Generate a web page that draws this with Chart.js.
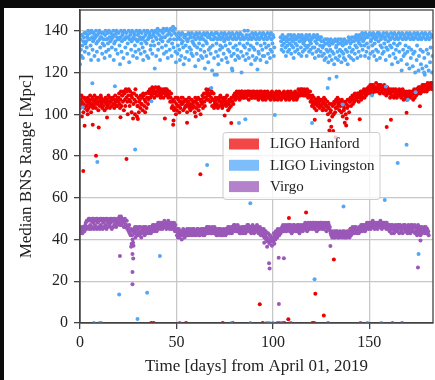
<!DOCTYPE html>
<html>
<head>
<meta charset="utf-8">
<script src="https://cdn.jsdelivr.net/npm/chart.js@4.4.1/dist/chart.umd.min.js"></script>
<style>
  html, body { margin: 0; padding: 0; background: #0b0b0b; }
  #wrap { position: absolute; left: 4px; top: 8px; width: 431px; height: 372px; background: #fff; }
</style>
</head>
<body>
<div id="wrap"><canvas id="rangeChart"></canvas></div>
<script>
// 4 readings per day, each segment starts at the given day
var perDay = 4;

var hanfordFrom0 = [
  103,107,105,109, 106,104,108,101, 105,108,103,107, 107,104,106,102, 108,105,103,107,
  106,109,104,101, 105,107,108,103, 104,106,109,105, 107,103,106,108, 105,108,102,106,
  106,104,107,109, 108,105,103,106, 104,107,106,102, 106,108,105,103, 107,104,106,109,
  105,108,103,106, 106,107,104,108, 108,105,107,103, 105,109,106,104, 107,104,108,106,
  108,110,105,103, 107,111,104,109, 109,106,111,102, 110,107,104,112, 108,111,106,100,
  109,112,107,104, 111,106,109,101, 108,110,98,105, 110,107,100,112, 106,109,99,104,
  104,108,101,106, 107,103,109,105, 105,108,102,110, 109,104,107,101, 106,110,103,108,
  108,105,111,107, 110,112,108,111, 111,109,113,110, 112,110,108,111, 110,113,111,109,
  111,109,112,113, 112,110,111,108, 109,112,110,111, 111,108,112,110, 110,112,109,111,
  112,110,111,108, 109,111,110,106, 108,110,103,106, 104,107,97,102, 106,103,108,100
];
var hanfordFrom50 = [
  105,102,108,104, 107,104,101,106, 103,106,108,105, 105,108,102,106, 106,103,107,104,
  104,107,101,105, 106,104,108,103, 105,102,107,104, 107,105,103,106, 104,106,101,108,
  106,103,107,105, 105,108,102,104, 104,107,100,106, 107,105,109,103, 108,110,106,104,
  110,108,112,107, 111,109,107,110, 109,112,106,110, 108,111,104,107, 107,110,103,105,
  106,108,104,107, 105,107,103,108, 107,104,106,109, 106,108,105,103, 104,107,106,108,
  107,105,108,104, 106,109,105,102, 105,107,103,106, 107,104,108,106, 106,108,105,109,
  108,110,107,109, 109,111,108,110, 110,108,111,107, 109,110,108,111, 111,109,110,108,
  108,110,111,109, 110,108,109,111, 109,111,107,110, 111,109,110,108, 110,108,111,109,
  109,111,108,110, 108,110,109,111, 110,108,107,109, 109,111,108,110, 111,109,110,107,
  108,110,109,111, 110,107,108,109, 109,111,110,108, 108,110,109,107, 110,108,111,109
];
var hanfordFrom100 = [
  109,110,108,107, 108,110,109,111, 110,109,107,108, 109,111,108,110, 108,107,110,109,
  110,108,109,111, 109,110,108,107, 108,110,109,111, 110,108,107,109, 109,111,110,108,
  108,110,109,107, 110,109,111,108, 109,107,110,108, 110,112,109,111, 111,109,112,110,
  112,110,111,109, 110,112,109,111, 111,109,110,112, 110,108,111,109, 109,111,106,108,
  107,104,109,105, 106,108,103,105, 105,107,102,106, 107,104,108,105, 106,103,107,104,
  104,107,105,102, 106,103,108,105, 105,107,102,104, 104,106,100,103, 103,97,105,101,
  102,94,105,99, 104,92,100,106, 105,101,103,107, 106,103,108,104, 105,107,102,106,
  104,106,101,107, 106,99,104,102, 103,96,106,100, 105,98,103,107, 104,107,101,106,
  106,108,104,107, 107,109,105,108, 108,106,110,107, 109,107,108,110, 108,110,106,109,
  110,108,111,107, 109,111,108,110, 110,112,108,111, 111,109,112,110, 112,110,113,111
];
var hanfordFrom150 = [
  113,111,114,110, 112,114,110,113, 114,112,111,113, 111,113,115,112, 113,111,112,114,
  112,114,110,113, 114,111,113,112, 112,113,110,114, 113,111,112,109, 111,113,110,112,
  112,110,111,108, 110,112,109,111, 111,109,112,108, 109,111,110,112, 110,108,111,109,
  111,109,112,110, 109,111,108,110, 110,112,109,107, 111,109,110,108, 109,111,107,110,
  110,108,111,109, 111,109,108,110, 109,111,110,107, 110,112,108,111, 111,109,112,110,
  112,110,113,111, 111,113,110,112, 113,111,114,112, 112,114,111,113, 114,112,113,111,
  113,115,112,114, 112,114,113,115, 114,113,115,112
];
var hanfordStray = [
  [1.7,72.9],[8.3,80.2],[24.1,78.6],[62.4,71.3],[108.3,50.3],[117.2,53],[140.2,45],
  [131.6,30.4],[122,14],[126.4,3.6],[108,1.8],[93.2,9],[2.4,94.5],[6.6,95],[9.7,93.7],
  [48.3,95],[55.5,96],[78.4,95.8],[121.7,97.4],[159,93.9],[161.2,97.4],[169.3,100.7],
  [176.2,103.9],[145,97.7],[129.3,92.3],[138,94.7],[1,99],[4,100],[14,98.5],[21,98.6],
  [30,97.8],[44,98],[60,99],[75,99.5],[132.5,89],
  [36.9,0],[38.2,0],[55,0],[74,0],[79.2,0],[94.7,0],[105.9,0],[120.5,0],[121.4,0]
];

var livingstonFrom0 = [
  124,136,131,128, 138,133,127,135, 137,139,130,134, 139,135,132,137, 138,140,129,136,
  136,139,133,126, 140,137,131,135, 139,136,128,138, 137,140,134,130, 138,135,126,139,
  140,136,132,137, 137,139,129,134, 139,136,133,127, 138,140,130,136, 136,139,134,131,
  140,137,128,135, 139,136,132,138, 137,140,126,134, 138,135,131,139, 140,137,129,136,
  139,136,133,124, 137,140,130,135, 138,139,127,136, 140,136,132,137, 139,137,129,134,
  137,140,125,136, 138,139,131,135, 140,136,128,137, 139,138,133,130, 136,140,127,135,
  138,139,131,136, 140,137,129,134, 139,136,132,126, 137,140,130,135, 138,139,134,128,
  140,136,127,137, 139,138,131,133, 137,140,129,135, 138,139,133,122, 140,137,128,136,
  139,141,131,134, 138,140,126,136, 140,137,132,135, 139,141,129,137, 137,140,133,130,
  141,138,127,135, 140,139,131,136, 141,138,128,134, 140,142,132,136, 139,141,130,125
];
var livingstonFrom50 = [
  138,136,129,133, 137,139,131,126, 136,138,128,134, 139,135,132,124, 137,138,127,133,
  138,136,130,135, 136,139,126,132, 138,137,131,129, 139,135,128,134, 137,138,133,123,
  136,139,129,132, 138,137,126,134, 139,136,131,128, 137,138,127,133, 136,139,130,122,
  138,135,128,134, 139,137,125,131, 137,138,132,129, 136,139,121,133, 138,136,127,119,
  137,139,130,134, 139,136,128,124, 138,137,131,133, 136,139,126,132, 137,138,129,135,
  139,136,133,127, 138,137,125,131, 136,139,130,134, 137,138,128,122, 139,136,132,129,
  138,137,126,133, 136,139,131,128, 137,138,127,134, 139,136,130,120, 138,137,128,133,
  136,140,132,126, 137,138,129,134, 140,136,127,131, 138,137,133,124, 136,139,128,132,
  137,138,131,126, 139,136,127,134, 138,137,130,129, 136,139,126,133, 137,138,131,128,
  139,136,128,134, 138,137,132,125, 136,139,129,133, 137,138,127,131, 139,136,130,134,
  138,137,128,132
];
// no Livingston data from day 101 to 103
var livingstonFrom104 = [
  137,135,131,133, 138,136,130,134, 136,137,132,128, 137,135,133,130, 138,136,131,134,
  136,138,129,133, 137,135,132,127, 138,136,130,134, 136,137,133,131, 137,138,129,135,
  135,137,132,128, 138,136,130,134, 137,135,131,133, 136,138,128,132, 137,136,133,130,
  138,135,131,134, 136,137,129,132, 137,138,132,127, 135,137,130,134, 138,136,131,128,
  136,137,133,130, 137,135,128,132,
  135,133,129,126, 136,134,127,131, 134,136,130,125, 135,133,128,131, 136,134,126,130,
  134,135,129,124, 135,136,127,132, 133,135,130,126, 136,134,128,131, 134,136,125,130,
  135,133,129,127, 136,134,126,131, 134,135,130,124, 135,137,128,132, 136,134,127,130,
  137,135,131,126, 135,137,129,133, 136,138,132,127, 137,135,130,134, 138,136,128,133
];
var livingstonFrom146 = [
  137,139,131,135, 138,136,133,128, 139,137,130,134, 137,138,132,127, 138,139,129,135,
  136,138,133,130, 139,137,128,134, 138,136,131,126, 137,139,130,135, 139,138,127,133,
  136,137,132,129, 138,139,130,134, 137,136,126,132, 139,138,131,135, 138,137,128,133,
  136,139,132,124, 137,138,129,134, 139,136,127,131, 138,137,133,125, 136,139,130,134,
  137,138,126,121, 139,136,131,128, 138,137,129,133, 136,139,124,130, 137,138,132,122,
  139,136,127,131, 138,137,123,129, 136,139,130,120, 137,138,126,133, 139,136,121,128,
  138,137,131,124, 136,139,122,130, 137,138,127,119, 139,136,123,131, 138,137,129,121,
  136,139,125,132, 137,138,120,128
];
var livingstonStray = [
  [1.4,103.4],[6.4,114.9],[18.1,113.4],[9,77.2],[28.6,83.2],[20.3,13.7],[29.8,1.9],
  [34.8,14.5],[41.4,32.1],[37,106.3],[65.9,75.7],[68.1,112.6],[82.4,95.8],[85.7,97.7],
  [88.3,57.4],[101,99.7],[120.3,95.9],[121.6,21],[128.4,112.6],[129.3,117],[133,118],
  [136.6,55.8],[136.2,104.7],[151.4,109],[158,58.9],[164.7,76.7],[169.3,85.4],[175.5,33.1],
  [170,107],[158.6,113.3],[174,110.6],[178.4,120],[71,119],[79,121],[92,121.5],
  [7.2,0],[10.2,0],[11,0],[78.6,0],[88.3,0],[96.7,0],[98,0],[100,0],[149,0],[156.2,0]
];

var virgoFrom0 = [
  44,46,43,45, 45,43,46,44, 46,44,45,47, 48,45,49,46, 49,46,50,45, 50,47,49,45, 49,46,50,48, 50,45,49,47, 49,46,50,45, 50,48,49,46,
  49,45,50,47, 50,46,49,45, 48,50,46,49, 49,47,50,45, 50,46,48,49, 49,47,50,46, 48,50,45,49, 49,46,50,47, 50,48,49,46, 49,47,50,48,
  50,48,51,47, 49,51,47,50, 50,48,49,46, 48,50,46,47, 47,49,45,46, 46,44,47,43, 44,42,45,38, 42,40,44,37, 45,43,46,41, 44,46,42,45,
  45,43,46,42, 44,46,43,41, 43,45,44,46, 45,44,42,46, 46,43,45,44, 44,45,43,46, 45,46,44,43, 46,44,45,47, 45,47,44,46, 46,45,47,44,
  47,45,48,46, 46,48,45,47, 48,46,47,45, 47,48,46,49, 46,47,48,45, 48,46,47,49, 47,48,45,46, 46,47,48,45, 47,45,46,48, 46,44,47,45
];
var virgoFrom50 = [
  44,42,45,41, 43,45,41,44, 42,44,43,40, 44,42,45,43, 43,41,44,42, 44,43,45,42, 43,45,42,44, 44,43,45,42, 43,44,42,45, 45,43,44,42,
  44,42,43,45, 43,45,44,42, 42,44,43,45, 44,43,45,42, 43,45,42,44, 45,44,43,46, 44,46,43,45, 46,44,45,43, 45,43,46,44, 44,45,43,46,
  43,44,45,42, 44,42,43,45, 43,45,44,42, 45,43,42,44, 44,42,45,43, 43,44,42,45, 45,43,44,46, 44,46,43,45, 45,44,46,43, 46,45,44,47,
  45,47,46,44, 46,44,45,47, 44,46,45,43, 45,43,44,46, 44,45,43,46, 45,46,44,43, 46,44,45,47, 45,47,44,46, 44,46,45,43, 46,45,47,44,
  45,43,46,44, 44,46,45,47, 46,44,43,45, 45,46,44,42, 44,42,45,43, 43,45,41,44, 42,44,40,43, 41,39,43,40, 40,38,42,39, 39,41,37,40,
  41,39,43,38, 42,40,44,41, 43,41,45,42, 44,42,43,45, 43,45,44,46
];
var virgoFrom105 = [
  45,47,44,46, 46,44,47,45, 44,46,45,47, 46,45,47,44, 45,47,46,43, 46,44,45,47, 47,45,46,44, 45,46,44,47, 46,47,45,43, 44,46,47,45,
  46,45,44,47, 47,46,45,48, 45,47,46,44, 46,48,45,47, 47,45,48,46, 46,47,45,48, 48,46,47,45, 47,48,46,44, 46,47,48,45, 47,45,46,48,
  48,46,47,45, 46,48,45,47, 47,46,48,44, 46,47,45,48, 47,45,46,44,
  43,42,44,41, 42,43,41,44, 43,41,42,44, 42,44,43,41, 41,43,42,44, 43,42,41,43, 42,44,43,41, 44,42,41,43, 43,41,44,42, 42,43,44,41,
  43,45,42,44, 44,46,43,45, 45,43,46,44, 46,44,45,43, 44,45,43,46, 45,46,44,47, 46,44,47,45, 45,47,46,44, 47,45,46,48, 46,48,45,47
];
var virgoFrom150 = [
  47,48,46,45, 48,46,47,49, 46,48,47,45, 48,47,46,48, 47,45,48,46, 46,48,47,49, 48,47,45,46, 47,48,46,48, 46,47,48,45, 48,46,47,45,
  46,47,44,45, 45,47,43,46, 47,45,46,43, 44,46,47,45, 46,44,45,47, 45,47,43,46, 47,46,44,45, 45,43,46,47, 46,45,47,44, 44,46,45,43,
  46,47,44,45, 45,43,46,47, 47,45,44,46, 44,46,47,43, 46,44,45,42, 45,47,43,46, 44,46,42,45, 46,43,45,44, 45,44,46,43, 44,46,43,45,
  45,43,44,42
];
var virgoStray = [
  [20.7,32.1],[27.2,33.1],[27.6,30.9],[27.2,24.5],[27.2,18.6],[98,28.6],[98.3,26.1],
  [103,31.3],[105.7,31],[103.1,9.1],[129.8,36.9],[175.2,26.6],[26.5,36.6],[27.5,38.5],
  [176.5,39.5],[12,45.5],[33,43.5],[95.5,38.5],[97,36.5],
  [51.7,0],[102.4,0],[103.5,0],[105,0],[109.3,0],[128.6,0],[145.4,0],[162,0],[167,0]
];

var detectorNames = ['LIGO Hanford', 'LIGO Livingston', 'Virgo'];
var pointColors = ['#ee0000', '#52a8f8', '#9a58b8'];
var swatchColors = ['rgba(238,0,0,0.72)', 'rgba(82,168,248,0.75)', 'rgba(154,88,184,0.75)'];

function dailyPoints(startDay, values) {
  return values.map(function (v, i) { return { x: startDay + i / perDay, y: v }; });
}
function strayPoints(pairs) {
  return pairs.map(function (p) { return { x: p[0], y: p[1] }; });
}

var hanfordPts = [].concat(
  dailyPoints(0, hanfordFrom0), dailyPoints(50, hanfordFrom50),
  dailyPoints(100, hanfordFrom100), dailyPoints(150, hanfordFrom150),
  strayPoints(hanfordStray));
var livingstonPts = [].concat(
  dailyPoints(0, livingstonFrom0), dailyPoints(50, livingstonFrom50),
  dailyPoints(104, livingstonFrom104), dailyPoints(146, livingstonFrom146),
  strayPoints(livingstonStray));
var virgoPts = [].concat(
  dailyPoints(0, virgoFrom0), dailyPoints(50, virgoFrom50),
  dailyPoints(105, virgoFrom105), dailyPoints(150, virgoFrom150),
  strayPoints(virgoStray));

var serif = '"Liberation Serif", "DejaVu Serif", serif';

// legend box sitting inside the plot, like matplotlib's
var boxLegend = {
  id: 'boxLegend',
  afterDatasetsDraw: function (chart) {
    var ctx = chart.ctx, a = chart.chartArea;
    var x = a.left + 143, y = a.top + 122.5, w = 157, h = 67;
    ctx.save();
    ctx.fillStyle = 'rgba(255,255,255,0.8)';
    ctx.strokeStyle = '#cccccc';
    ctx.lineWidth = 1;
    ctx.beginPath();
    ctx.roundRect(x, y, w, h, 3);
    ctx.fill();
    ctx.stroke();
    ctx.font = '15px ' + serif;
    ctx.textBaseline = 'middle';
    for (var i = 0; i < detectorNames.length; i++) {
      var cy = y + 11.5 + i * 21.3;
      ctx.fillStyle = swatchColors[i];
      ctx.fillRect(x + 6, cy - 5.5, 30, 11);
      ctx.fillStyle = '#222';
      ctx.fillText(detectorNames[i], x + 47, cy + 0.5);
    }
    ctx.restore();
  }
};

var frameBox = {
  id: 'frameBox',
  afterDraw: function (chart) {
    var ctx = chart.ctx, a = chart.chartArea;
    ctx.save();
    ctx.strokeStyle = '#444';
    ctx.lineWidth = 1.3;
    ctx.strokeRect(a.left, a.top, a.right - a.left, a.bottom - a.top);
    ctx.restore();
  }
};

function ds(i, pts, order) {
  return {
    label: detectorNames[i],
    data: pts,
    backgroundColor: pointColors[i],
    borderWidth: 0,
    pointRadius: 2,
    pointHoverRadius: 2,
    order: order
  };
}

new Chart(document.getElementById('rangeChart'), {
  type: 'scatter',
  data: {
    datasets: [ds(0, hanfordPts, 3), ds(1, livingstonPts, 2), ds(2, virgoPts, 1)]
  },
  options: {
    responsive: true,
    maintainAspectRatio: false,
    animation: false,
    events: [],
    layout: { padding: { top: 1.5, right: 1.7, left: 0, bottom: 0 } },
    plugins: { legend: { display: false }, tooltip: { enabled: false } },
    scales: {
      x: {
        type: 'linear', min: 0, max: 183,
        afterFit: function (s) { s.height = 57; s.paddingLeft = 0; s.paddingRight = 0; },
        ticks: { stepSize: 50, includeBounds: false, maxRotation: 0, padding: 4,
                 color: '#222', font: { family: serif, size: 16 } },
        grid: { color: '#c8c8c8', lineWidth: 1.3, tickColor: '#444', tickLength: 6 },
        border: { color: '#444', width: 1.3 },
        title: { display: true, text: 'Time [days] from April 01, 2019', color: '#222',
                 font: { family: serif, size: 17 }, padding: { top: 4, bottom: 3 } }
      },
      y: {
        min: 0, max: 150,
        afterFit: function (s) { s.width = 76; s.paddingTop = 0; s.paddingBottom = 0; },
        ticks: { stepSize: 20, includeBounds: false, padding: 6,
                 color: '#222', font: { family: serif, size: 16 } },
        grid: { color: '#c8c8c8', lineWidth: 1.3, tickColor: '#444', tickLength: 6 },
        border: { color: '#444', width: 1.3 },
        title: { display: true, text: 'Median BNS Range [Mpc]', color: '#222',
                 font: { family: serif, size: 17 }, padding: { top: 12, bottom: 4 } }
      }
    }
  },
  plugins: [boxLegend, frameBox]
});
</script>
</body>
</html>
